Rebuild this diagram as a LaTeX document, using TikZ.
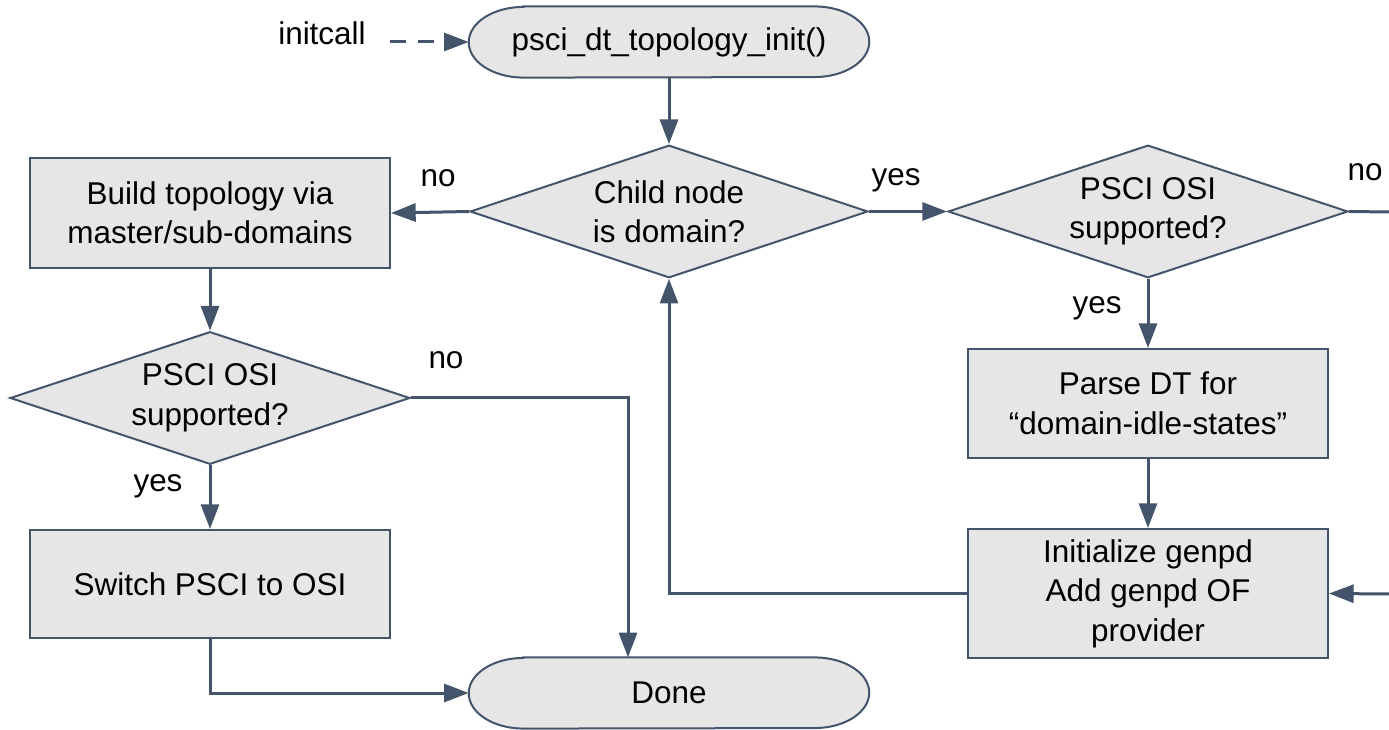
\documentclass[tikz,border=0pt]{standalone}
\usepackage{fontspec}
\setmainfont{Liberation Sans}
\usetikzlibrary{shapes.geometric,arrows.meta,backgrounds}
\definecolor{ln}{RGB}{68,84,106}
\definecolor{fl}{RGB}{230,230,230}
\newcommand\txtfont{\fontsize{23.6}{29.6}\selectfont}
\tikzset{
  base/.style={draw=ln, line width=1.5pt, fill=fl, align=center, font=\txtfont, inner sep=0pt},
  procbox/.style={base, rectangle, minimum width=270pt, minimum height=#1},
  decision/.style={base, diamond, aspect=3, minimum width=#1, minimum height=99.5pt},
  terminal/.style={align=center, font=\txtfont, inner sep=0pt, minimum width=300pt, minimum height=53pt},
  conn/.style={draw=ln, line width=2.25pt, -{Triangle[length=18.5pt,width=13.5pt]}},
  plainline/.style={draw=ln, line width=2.25pt},
  lbl/.style={font=\txtfont, inner sep=0pt, anchor=base},
}
\newcommand\stadium[1]{%
  \draw[draw=ln, line width=1.5pt, fill=fl]
    ([xshift=41pt]#1.north west) -- ([xshift=-41pt]#1.north east)
    arc[start angle=90, end angle=-90, x radius=41pt, y radius=26.5pt]
    -- ([xshift=41pt]#1.south west)
    arc[start angle=270, end angle=90, x radius=41pt, y radius=26.5pt] -- cycle;}
\begin{document}
\begin{tikzpicture}[x=0.75pt,y=-0.75pt]
\useasboundingbox (0,0) rectangle (1389,730);

% nodes
\node[terminal] (start) at (669,42) {psci\_dt\_topology\_init()};
\node[decision=298.5pt] (dec1) at (669,211.5) {Child node\\is domain?};
\node[procbox=82.5pt] (build) at (210,213) {Build topology via\\master/sub-domains};
\node[decision=300pt] (dec2) at (210,398) {PSCI OSI\\supported?};
\node[procbox=81pt] (switch) at (210,584) {Switch PSCI to OSI};
\node[terminal] (done) at (669,693) {Done};
\node[decision=300pt] (dec3) at (1148,211.5) {PSCI OSI\\supported?};
\node[procbox=81.75pt] (parse) at (1148,403.5) {Parse DT for\\“domain-idle-states”};
\node[procbox=96.75pt] (init) at (1148,593.5) {Initialize genpd\\Add genpd OF\\provider};

\begin{scope}[on background layer]
  \stadium{start}
  \stadium{done}
\end{scope}

% labels
\node[lbl] (linit) at (322,45) {initcall};
\node[lbl] (lno1) at (438,187) {no};
\node[lbl] (lyes1) at (896,186) {yes};
\node[lbl] (lno2) at (1365,181) {no};
\node[lbl] (lyes2) at (1097,314) {yes};
\node[lbl] (lno3) at (446,369) {no};
\node[lbl] (lyes3) at (158,492) {yes};

% free-end coordinates
\coordinate (icstart) at (390,42);
\coordinate (bend) at (628,398);
\coordinate (edge1) at (1389,212);
\coordinate (edge2) at (1389,594);

% connectors
\draw[conn, dash pattern=on 12pt off 9pt] (icstart) -- (start.west);
\draw[conn] (start.south) -- (dec1.north);
\draw[conn] (dec1.west) -- (build.east);
\draw[conn] (build.south) -- (dec2.north);
\draw[conn] (dec2.south) -- (switch.north);
\draw[conn] (dec2.east) -- (bend) -- (bend |- done.north);
\draw[conn] (switch.south) |- (done.west);
\draw[conn] (dec1.east) -- (dec3.west);
\draw[plainline] (dec3.east) -- (edge1);
\draw[conn] (dec3.south) -- (parse.north);
\draw[conn] (parse.south) -- (init.north);
\draw[conn] (edge2) -- (init.east);
\draw[conn] (init.west) -| (dec1.south);
\end{tikzpicture}
\end{document}
